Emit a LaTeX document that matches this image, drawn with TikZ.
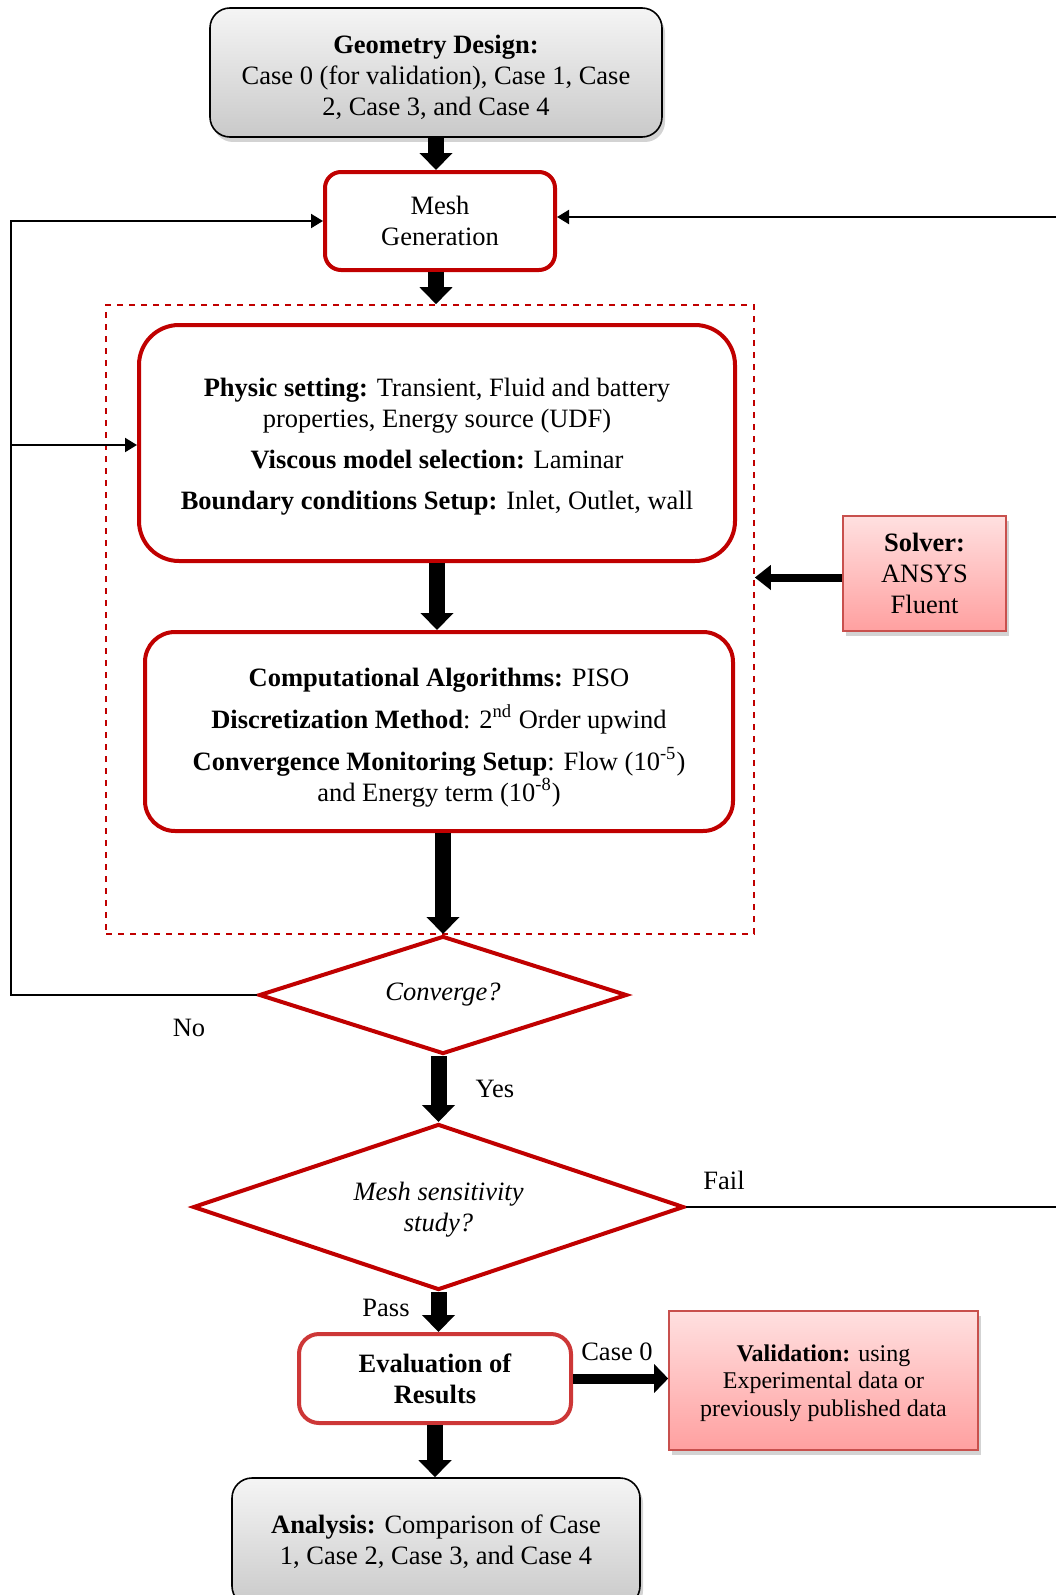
\documentclass[tikz,border=0pt]{standalone}
\usepackage{fontspec}
\setmainfont{Liberation Serif}
\usetikzlibrary{arrows.meta,shapes.geometric,shadows}
\definecolor{dred}{RGB}{192,0,0}
\definecolor{mred}{RGB}{205,55,55}
\definecolor{pinkT}{RGB}{255,224,224}
\definecolor{pinkB}{RGB}{255,160,160}
\definecolor{pinkE}{RGB}{200,80,77}
\newcommand{\upstrut}[1]{\rule{0pt}{#1}}
\begin{document}
\begin{tikzpicture}[x=0.5pt,y=-0.5pt,font=\fontsize{13.25}{15.5}\selectfont,
  graybox/.style={draw=black,line width=0.8pt,rounded corners=10pt,top color=gray!8,bottom color=gray!42,
     drop shadow={opacity=0.35,shadow xshift=1.5pt,shadow yshift=-2.5pt},align=center,inner sep=0pt},
  redbox/.style={draw=dred,line width=2pt,fill=white,align=center,inner sep=0pt},
  pinkbox/.style={draw=pinkE,line width=0.8pt,top color=pinkT,bottom color=pinkB,
     drop shadow={opacity=0.35,shadow xshift=1.5pt,shadow yshift=-2.5pt},align=center,inner sep=0pt},
  decision/.style={diamond,draw=dred,line width=2pt,fill=white,inner sep=0pt,align=center,font=\fontsize{13.25}{15.5}\selectfont\itshape},
  bigarrow/.style={line width=8pt,-{Triangle[width=16pt,length=8.5pt]}},
  midarrow/.style={line width=5pt,-{Triangle[width=14pt,length=7pt]}},
  thinarrow/.style={line width=1pt,-{Triangle[width=7pt,length=6pt]}},
  thinline/.style={line width=1pt},
  lbl/.style={inner sep=0pt}]
\useasboundingbox (0,0) rectangle (1056,1595);

% dashed container
\node[draw=dred,dashed,line width=0.8pt,minimum width=324pt,minimum height=314.5pt,inner sep=0pt] (dbox) at (430,619.5) {};

% nodes
\node[graybox,minimum width=226pt,minimum height=64.5pt] (geo) at (436,72.5)
  {\upstrut{14pt}\textbf{Geometry Design:}\\Case 0 (for validation), Case 1, Case\\2, Case 3, and Case 4};
\node[redbox,rounded corners=8pt,minimum width=115pt,minimum height=49pt] (mesh) at (440,221)
  {Mesh\\Generation};
\node[redbox,rounded corners=20pt,minimum width=298pt,minimum height=118pt] (phys) at (437,443)
  {\upstrut{13pt}\textbf{Physic setting:} Transient, Fluid and battery\\properties, Energy source (UDF)\\[5pt]
   \textbf{Viscous model selection:} Laminar\\[5pt]
   \textbf{Boundary conditions Setup:} Inlet, Outlet, wall};
\node[redbox,rounded corners=15pt,minimum width=294pt,minimum height=99.5pt] (comp) at (439,731.5)
  {\upstrut{15pt}\textbf{Computational Algorithms:} PISO\\[5.5pt]
   \textbf{Discretization Method}: 2\textsuperscript{nd} Order upwind\\[5.5pt]
   \textbf{Convergence Monitoring Setup}: Flow (10\textsuperscript{-5})\\and Energy term (10\textsuperscript{-8})};
\node[pinkbox,minimum width=81.5pt,minimum height=57.5pt] (solver) at (924.5,573.5)
  {\textbf{Solver:}\\ANSYS\\Fluent};
\node[decision,aspect=3.1,minimum width=184pt,minimum height=59pt] (conv) at (443,995) {Converge?};
\node[decision,aspect=2.96,minimum width=245.5pt,minimum height=83pt] (sens) at (438.5,1207) {\upstrut{12pt}Mesh sensitivity\\study?};
\node[redbox,draw=mred,rounded corners=10pt,minimum width=136pt,minimum height=44.5pt] (eval) at (435,1378.5)
  {\textbf{Evaluation of}\\\textbf{Results}};
\node[pinkbox,minimum width=154.5pt,minimum height=69.5pt,font=\fontsize{12}{13.75}\selectfont] (val) at (823.5,1380.5)
  {\upstrut{11pt}\textbf{Validation:} using\\Experimental data or\\previously published data};
\begin{scope}
\clip (0,0) rectangle (1056,1595);
\node[graybox,minimum width=204pt,minimum height=64pt] (ana) at (436,1542)
  {\textbf{Analysis:} Comparison of Case\\1, Case 2, Case 3, and Case 4};
\end{scope}

% coordinates for feedback loops
\coordinate (L1) at (11,995);
\coordinate (L2) at (11,221);
\coordinate (L3) at (11,445);
\coordinate (R1) at (1056,1207);
\coordinate (R2) at (1056,217);

% main flow arrows
\draw[bigarrow] (geo.south) -- (geo.south |- mesh.north);
\draw[bigarrow] (geo.south |- mesh.south) -- (geo.south |- dbox.north);
\draw[bigarrow] (phys.south) -- (phys.south |- comp.north);
\draw[bigarrow] (conv.north |- comp.south) -- (conv.north);
\draw[bigarrow] (sens.north |- conv.south) -- (sens.north);
\draw[bigarrow] (sens.south) -- (sens.south |- eval.north);
\draw[bigarrow] (eval.south) -- (eval.south |- ana.north);
\draw[midarrow] (eval.east) -- (val.west |- eval.east);
\draw[line width=4pt,-{Triangle[width=12pt,length=8pt]}] ([yshift=-2pt]solver.west) -- ([yshift=-2pt]solver.west -| dbox.east);

% feedback lines
\draw[thinarrow] (conv.west) -- (L1) -- (L2) -- (mesh.west);
\draw[thinarrow] (L3) -- (L3 -| phys.west);
\draw[thinline] (sens.east) -- (R1);
\draw[thinarrow] (R2) -- (R2 -| mesh.east);

% labels
\node[lbl] (no) at (189,1028) {No};
\node[lbl] (yes) at (495,1089) {Yes};
\node[lbl] (fail) at (724,1180) {Fail};
\node[lbl] (pass) at (386,1308) {Pass};
\node[lbl] (case0) at (617,1352) {Case 0};
\end{tikzpicture}
\end{document}
